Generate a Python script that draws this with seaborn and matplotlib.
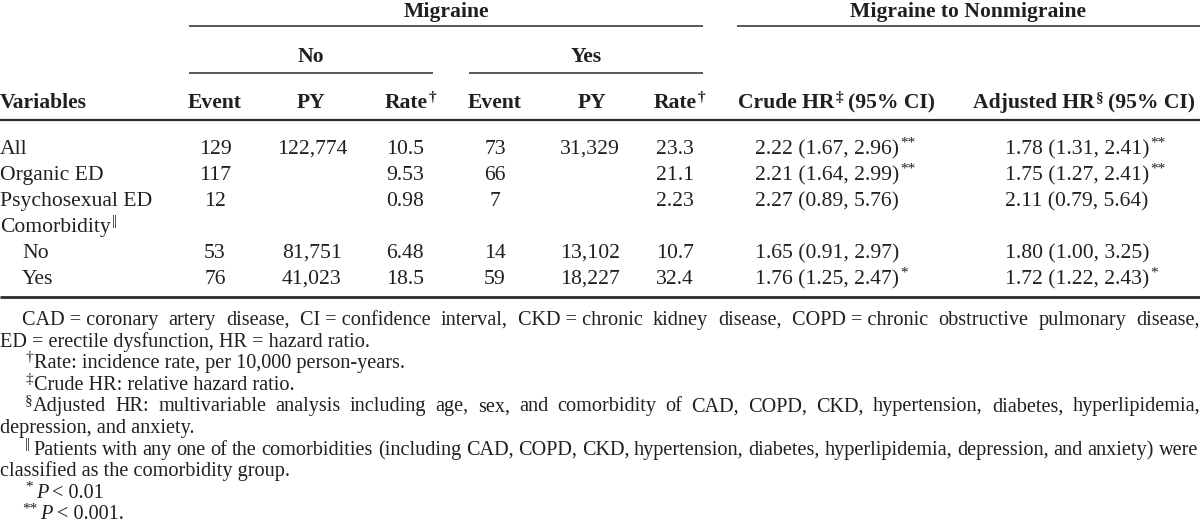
import matplotlib
matplotlib.use("Agg")
import matplotlib.pyplot as plt
import seaborn as sns
import pandas as pd

# table values
variables = ["All", "Organic ED", "Psychosexual ED", "Comorbidity", "No", "Yes"]
indent = [0, 0, 0, 0, 1, 1]
no_event = ["129", "117", "12", "", "53", "76"]
no_py = ["122,774", "", "", "", "81,751", "41,023"]
no_rate = ["10.5", "9.53", "0.98", "", "6.48", "18.5"]
yes_event = ["73", "66", "7", "", "14", "59"]
yes_py = ["31,329", "", "", "", "13,102", "18,227"]
yes_rate = ["23.3", "21.1", "2.23", "", "10.7", "32.4"]
crude_hr = ["2.22 (1.67, 2.96)", "2.21 (1.64, 2.99)", "2.27 (0.89, 5.76)", "",
            "1.65 (0.91, 2.97)", "1.76 (1.25, 2.47)"]
crude_sig = ["**", "**", "", "", "", "*"]
adj_hr = ["1.78 (1.31, 2.41)", "1.75 (1.27, 2.41)", "2.11 (0.79, 5.64)", "",
          "1.80 (1.00, 3.25)", "1.72 (1.22, 2.43)"]
adj_sig = ["**", "**", "", "", "", "*"]

tbl = pd.DataFrame({"var": variables, "ind": indent,
                    "ne": no_event, "npy": no_py, "nr": no_rate,
                    "ye": yes_event, "ypy": yes_py, "yr": yes_rate,
                    "chr": crude_hr, "cs": crude_sig, "ahr": adj_hr, "as": adj_sig})

# footnote lines (word lists so the full lines can be justified)
note1 = ["CAD = coronary", "artery", "disease,", "CI = confidence", "interval,",
         "CKD = chronic", "kidney", "disease,", "COPD = chronic", "obstructive",
         "pulmonary", "disease,"]
note2 = "ED = erectile dysfunction, HR = hazard ratio."
note3 = "Rate: incidence rate, per 10,000 person-years."
note4 = "Crude HR: relative hazard ratio."
note5 = ("Adjusted HR: multivariable analysis including age, sex, and comorbidity of "
         "CAD, COPD, CKD, hypertension, diabetes, hyperlipidemia,").split()
note6 = "depression, and anxiety."
note7 = ("Patients with any one of the comorbidities (including CAD, COPD, CKD, "
         "hypertension, diabetes, hyperlipidemia, depression, and anxiety) were").split()
note8 = "classified as the comorbidity group."

INK = "#231f20"
RULE = "#2b2b2b"
BODY = 15.6
NOTE = 14.6
SUP = 11

sns.set_theme(style="white")
plt.rcParams["font.family"] = ["Liberation Serif", "DejaVu Serif"]

fig = plt.figure(figsize=(12, 5.26), dpi=100)
ax = fig.add_axes([0, 0, 1, 1])
ax.set_xlim(0, 1200)
ax.set_ylim(526, 0)
ax.axis("off")
r = fig.canvas.get_renderer()


def txt(x, y, s, size=BODY, weight="normal", ha="left", style="normal"):
    return ax.text(x, y, s, fontsize=size, fontweight=weight, ha=ha,
                   va="baseline", style=style, color=INK)


def wid(t):
    return t.get_window_extent(renderer=r).width


def run(x, y, parts, size=BODY, weight="normal"):
    # parts: (string, kind, gap before)
    for s, kind, gap in parts:
        x += gap
        if kind == "sup":
            t = txt(x, y - 7, s, size=SUP, weight=weight)
        elif kind == "it":
            t = txt(x, y, s, size=size, weight=weight, style="italic")
        else:
            t = txt(x, y, s, size=size, weight=weight)
        x += wid(t)
    return x


def justify(words, x0, x1, y, size=NOTE):
    ts = [txt(0, y, wd, size=size) for wd in words]
    ws = [wid(t) for t in ts]
    gap = (x1 - x0 - sum(ws)) / (len(ws) - 1)
    x = x0
    for t, wv in zip(ts, ws):
        t.set_x(x)
        x += wv + gap


# header
txt(446, 17, "Migraine", weight="bold", ha="center")
txt(968, 17, "Migraine to Nonmigraine", weight="bold", ha="center")
ax.hlines(26, 189, 703, color=RULE, lw=1.1)
ax.hlines(26, 737, 1200, color=RULE, lw=1.1)
txt(311, 62, "No", weight="bold", ha="center")
txt(586, 62, "Yes", weight="bold", ha="center")
ax.hlines(73, 189, 433, color=RULE, lw=1.1)
ax.hlines(73, 469, 703, color=RULE, lw=1.1)

hy = 108
txt(0, hy, "Variables", weight="bold")
txt(215, hy, "Event", weight="bold", ha="center")
txt(311, hy, "PY", weight="bold", ha="center")
run(385, hy, [("Rate", "n", 0), ("\u2020", "sup", 1)], weight="bold")
txt(495, hy, "Event", weight="bold", ha="center")
txt(592, hy, "PY", weight="bold", ha="center")
run(654, hy, [("Rate", "n", 0), ("\u2020", "sup", 1)], weight="bold")
run(738, hy, [("Crude HR", "n", 0), ("\u2021", "sup", 1), ("(95% CI)", "n", 5)], weight="bold")
run(973, hy, [("Adjusted HR", "n", 0), ("\u00a7", "sup", 1), ("(95% CI)", "n", 5)], weight="bold")
ax.hlines(120, 0, 1200, color=RULE, lw=1.6)

# body rows
for i, row in tbl.iterrows():
    y = 154 + 26 * i
    if row["var"] == "Comorbidity":
        run(0, y, [("Comorbidity", "n", 0), ("||", "sup", 1)])
    else:
        txt(22 * row["ind"], y, row["var"])
    txt(215, y, row["ne"], ha="center")
    txt(312, y, row["npy"], ha="center")
    txt(386, y, row["nr"])
    txt(495, y, row["ye"], ha="center")
    txt(590, y, row["ypy"], ha="center")
    txt(656, y, row["yr"])
    if row["chr"]:
        run(755, y, [(row["chr"], "n", 0), (row["cs"], "sup", 1)])
        run(1005, y, [(row["ahr"], "n", 0), (row["as"], "sup", 1)])
ax.hlines(297, 0, 1200, color=RULE, lw=2.0)

# footnotes
fy = [325 + 21.6 * k for k in range(10)]
justify(note1, 22, 1200, fy[0])
txt(0, fy[1], note2, size=NOTE)
run(25, fy[2], [("\u2020", "sup", 0), (note3, "n", 1)], size=NOTE)
run(25, fy[3], [("\u2021", "sup", 0), (note4, "n", 1)], size=NOTE)
txt(25, fy[4] - 7, "\u00a7", size=SUP)
justify(note5, 33, 1200, fy[4])
txt(0, fy[5], note6, size=NOTE)
txt(25, fy[6] - 7, "||", size=SUP)
justify(note7, 33, 1198, fy[6])
txt(0, fy[7], note8, size=NOTE)
run(25, fy[8], [("*", "sup", 0), ("P", "it", 3), ("< 0.01", "n", 4)], size=NOTE)
run(22, fy[9], [("**", "sup", 0), ("P", "it", 3), ("< 0.001.", "n", 4)], size=NOTE)

fig.savefig("out.png", dpi=100)
